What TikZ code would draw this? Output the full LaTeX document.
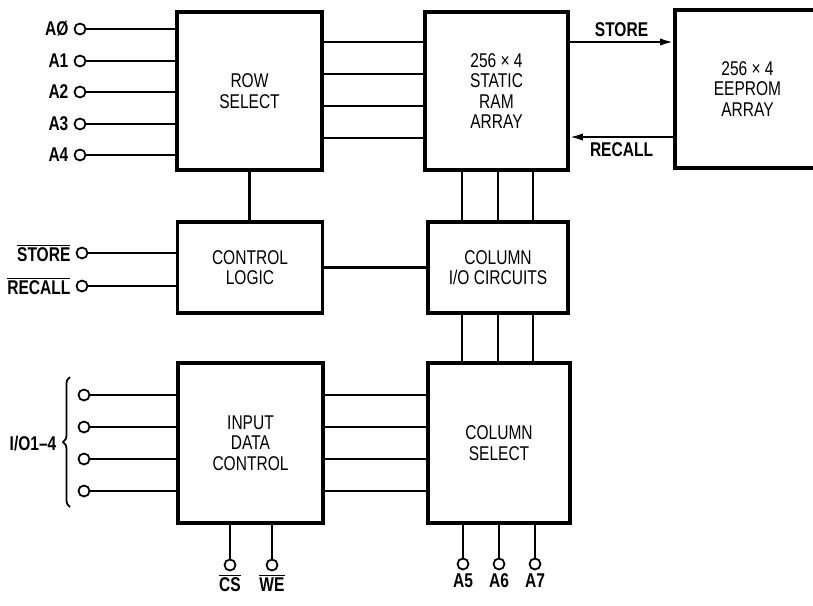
\documentclass[tikz,border=0pt]{standalone}
\usepackage{fontspec}
\setmainfont{Liberation Sans}[FakeStretch=0.78]
\usetikzlibrary{positioning,arrows.meta,decorations.pathreplacing}
\newcommand{\nbar}[1]{$\overline{\mbox{#1}}$}

\begin{document}
\begin{tikzpicture}[
  x=0.03cm, y=-0.03cm,
  every node/.style={font=\fontsize{17}{17.5}\selectfont},
  blk/.style={draw, line width=2.8pt, minimum width=4.35cm, align=center, inner sep=0pt},
  pin/.style={draw, circle, line width=1.5pt, minimum size=0.33cm, inner sep=0pt},
  lbl/.style={font=\fontsize{17}{17.5}\selectfont\bfseries, inner sep=0pt},
  wire/.style={line width=1.8pt},
  sig/.style={wire, -{Latex[length=0.4cm, width=0.22cm]}}
]
\useasboundingbox (0,0) rectangle (813,605);

% ---- blocks ----
\node[blk, minimum height=4.74cm] (rowsel) at (249.5,91) {ROW\\SELECT};
\node[blk, minimum width=4.29cm, minimum height=4.74cm] (ram) at (496.5,91)
     {256 × 4\\STATIC\\RAM\\ARRAY};
\node[blk, minimum height=4.74cm] (eep) at (747.5,89) {256 × 4\\EEPROM\\ARRAY};
\node[blk, minimum height=2.73cm] (ctl) at (250,267.5) {CONTROL\\LOGIC};
\node[blk, minimum width=4.2cm, minimum height=2.73cm] (colio) at (498,267.5)
     {COLUMN\\I/O CIRCUITS};
\node[blk, minimum height=4.8cm] (idc) at (250.5,443) {INPUT\\DATA\\CONTROL};
\node[blk, minimum width=4.26cm, minimum height=4.8cm] (colsel) at (499,443)
     {COLUMN\\SELECT};

% ---- address inputs A0-A4 ----
\foreach \n/\t/\y in {0/AØ/29, 1/A1/61, 2/A2/92, 3/A3/124, 4/A4/155} {
  \node[pin] (a\n) at (80,\y) {};
  \node[lbl, left=0.15cm of a\n] (la\n) {\t};
  \draw[wire] (a\n) -- (a\n -| rowsel.west);
}

% ---- internal buses ----
\foreach \y in {42,74,106,138}
  \draw[wire] (rowsel.east |- 0,\y) -- (ram.west |- 0,\y);
\foreach \x in {462,498,533} {
  \draw[wire] (ram.south -| \x,0) -- (colio.north -| \x,0);
  \draw[wire] (colio.south -| \x,0) -- (colsel.north -| \x,0);
}
\draw[wire] (rowsel.south) -- (rowsel.south |- ctl.north);
\draw[wire] (ctl.east) -- (colio.west);
\foreach \y in {395,427,459,491}
  \draw[wire] (idc.east |- 0,\y) -- (colsel.west |- 0,\y);

% ---- store / recall between the arrays ----
\draw[sig] (ram.east |- 0,42) -- (eep.west |- 0,42)
      node[lbl, midway, above=0.12cm] (lstore) {STORE};
\draw[sig] (eep.west |- 0,137) -- (ram.east |- 0,137)
      node[lbl, midway, below=0.15cm] (lrecall) {RECALL};

% ---- control inputs ----
\node[pin] (pst) at (82,253) {};
\node[lbl, left=0.15cm of pst] (lst) {\nbar{STORE}};
\node[pin] (prc) at (82,286) {};
\node[lbl, left=0.15cm of prc] (lrc) {\nbar{RECALL}};
\draw[wire] (pst) -- (pst -| ctl.west);
\draw[wire] (prc) -- (prc -| ctl.west);

% ---- data lines I/O1-4 ----
\foreach \n/\y in {1/395, 2/427, 3/459, 4/491} {
  \node[pin] (io\n) at (84,\y) {};
  \draw[wire] (io\n) -- (io\n -| idc.west);
}
\draw[line width=1.5pt, decorate, decoration={brace, amplitude=0.21cm}] (70,507) -- (70,377);
\node[lbl] (lio) at (33,443) {I/O1–4};

% ---- chip select, write enable ----
\node[pin] (pcs) at (230,565) {};
\node[lbl, below=0.1cm of pcs] (lcs) {\nbar{CS}};
\node[pin] (pwe) at (272,565) {};
\node[lbl, below=0.1cm of pwe] (lwe) {\nbar{WE}};
\draw[wire] (pcs) -- (pcs |- idc.south);
\draw[wire] (pwe) -- (pwe |- idc.south);

% ---- column address A5-A7 ----
\foreach \n/\x in {5/463, 6/499, 7/535} {
  \node[pin] (a\n) at (\x,564) {};
  \node[lbl, below=0.1cm of a\n] (la\n) {A\n};
  \draw[wire] (a\n) -- (a\n |- colsel.south);
}

\end{tikzpicture}
\end{document}
